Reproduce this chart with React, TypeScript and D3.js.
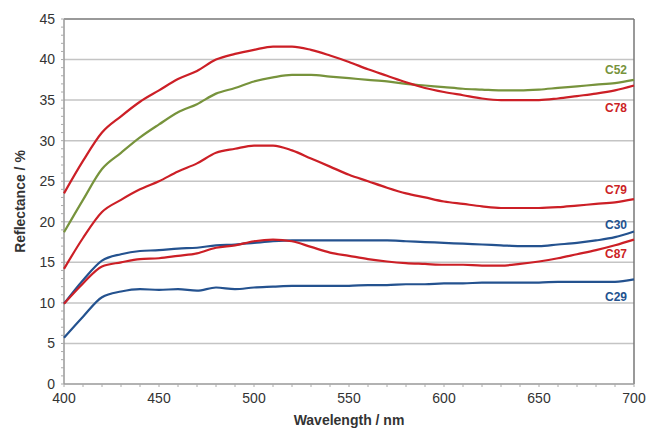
import React, { useEffect, useRef } from "react";
import * as d3 from "d3";

const wavelengths = [400,410,420,430,440,450,460,470,480,490,500,510,520,530,540,550,560,570,580,590,600,610,620,630,640,650,660,670,680,690,700];
const C78 = [23.5,27.5,31,33,34.8,36.2,37.6,38.6,40,40.7,41.2,41.6,41.6,41.2,40.5,39.7,38.8,38,37.2,36.5,36,35.6,35.2,35.0,35.0,35.0,35.2,35.5,35.8,36.2,36.8];
const C52 = [18.7,22.7,26.5,28.5,30.4,32,33.5,34.5,35.8,36.5,37.3,37.8,38.1,38.1,37.9,37.7,37.5,37.3,37.0,36.8,36.6,36.4,36.3,36.2,36.2,36.3,36.5,36.7,36.9,37.1,37.5];
const C79 = [14.2,18,21.2,22.7,24,25,26.2,27.2,28.5,29,29.4,29.4,28.8,27.8,26.8,25.8,25,24.2,23.5,23,22.5,22.2,21.9,21.7,21.7,21.7,21.8,22,22.2,22.4,22.8];
const C30 = [9.9,12.8,15.2,16.0,16.4,16.5,16.7,16.8,17.1,17.2,17.4,17.6,17.7,17.7,17.7,17.7,17.7,17.7,17.6,17.5,17.4,17.3,17.2,17.1,17.0,17.0,17.2,17.4,17.7,18.1,18.8];
const C87 = [9.9,12.4,14.5,15.0,15.4,15.5,15.8,16.1,16.8,17.1,17.6,17.8,17.6,16.9,16.2,15.8,15.4,15.1,14.9,14.8,14.7,14.7,14.6,14.6,14.8,15.1,15.5,16,16.5,17.1,17.8];
const C29 = [5.7,8.3,10.7,11.4,11.7,11.6,11.7,11.5,11.9,11.7,11.9,12.0,12.1,12.1,12.1,12.1,12.2,12.2,12.3,12.3,12.4,12.4,12.5,12.5,12.5,12.5,12.6,12.6,12.6,12.6,12.9];
const seriesNames = ["C52","C78","C79","C30","C87","C29"];
const seriesValues = [C52, C78, C79, C30, C87, C29];
const seriesColors = ["#77933c","#cc1f26","#cc1f26","#24528f","#cc1f26","#24528f"];
const labelValues = [38.7, 34.0, 24.0, 19.6, 16.0, 10.8];
const yTicks = [0,5,10,15,20,25,30,35,40,45];
const xTicks = [400,450,500,550,600,650,700];

export default function App() {
  const ref = useRef<SVGSVGElement>(null);
  useEffect(() => {
    const svg = d3.select(ref.current);
    svg.selectAll("*").remove();
    const left = 64, right = 634, top = 19, bottom = 384;
    const x = d3.scaleLinear().domain([400, 700]).range([left, right]);
    const y = d3.scaleLinear().domain([0, 45]).range([bottom, top]);
    const font = "Liberation Sans, Arial, sans-serif";

    // gridlines
    svg.append("g").selectAll("line").data(yTicks.filter(t => t > 0)).join("line")
      .attr("x1", left).attr("x2", right)
      .attr("y1", d => y(d)).attr("y2", d => y(d))
      .attr("stroke", d => d === 45 ? "#777" : "#c4c4c4").attr("stroke-width", 1.5);
    // right border
    svg.append("line").attr("x1", right).attr("x2", right).attr("y1", top).attr("y2", bottom)
      .attr("stroke", "#777").attr("stroke-width", 1.5);

    // y axis
    const yAxis = svg.append("g");
    yAxis.append("line").attr("x1", left).attr("x2", left).attr("y1", top).attr("y2", bottom).attr("stroke", "#999").attr("stroke-width", 1.5);
    yAxis.selectAll("line.minor").data(d3.range(0, 46)).join("line").attr("class", "minor")
      .attr("x1", left - 3).attr("x2", left).attr("y1", d => y(d)).attr("y2", d => y(d))
      .attr("stroke", "#aaa").attr("stroke-width", 1);
    yAxis.selectAll("text").data(yTicks).join("text")
      .attr("x", left - 9).attr("y", d => y(d)).attr("dy", "0.35em")
      .attr("text-anchor", "end").attr("font-family", font).attr("font-size", 14).attr("fill", "#333")
      .text(d => d);

    // x axis
    const xAxis = svg.append("g");
    xAxis.append("line").attr("x1", left).attr("x2", right).attr("y1", bottom).attr("y2", bottom).attr("stroke", "#999").attr("stroke-width", 1.5);
    xAxis.selectAll("line.minor").data(d3.range(400, 701, 10)).join("line").attr("class", "minor")
      .attr("x1", d => x(d)).attr("x2", d => x(d)).attr("y1", bottom).attr("y2", bottom + 3)
      .attr("stroke", "#aaa").attr("stroke-width", 1);
    xAxis.selectAll("text").data(xTicks).join("text")
      .attr("x", d => x(d)).attr("y", bottom + 19)
      .attr("text-anchor", "middle").attr("font-family", font).attr("font-size", 14).attr("fill", "#333")
      .text(d => d);

    // titles
    svg.append("text").attr("x", (left + right) / 2).attr("y", 425)
      .attr("text-anchor", "middle").attr("font-family", font).attr("font-size", 14).attr("font-weight", "bold").attr("fill", "#333")
      .text("Wavelength / nm");
    svg.append("text").attr("transform", `translate(25,${(top + bottom) / 2}) rotate(-90)`)
      .attr("text-anchor", "middle").attr("font-family", font).attr("font-size", 14).attr("font-weight", "bold").attr("fill", "#333")
      .text("Reflectance / %");

    // lines
    const line = d3.line<number>().x((_, i) => x(wavelengths[i])).y(d => y(d)).curve(d3.curveMonotoneX);
    seriesValues.forEach((vals, i) => {
      svg.append("path").attr("d", line(vals)).attr("fill", "none")
        .attr("stroke", seriesColors[i]).attr("stroke-width", 2.2).attr("stroke-linejoin", "round");
    });

    // labels
    svg.append("g").selectAll("text").data(seriesNames).join("text")
      .attr("x", 627).attr("y", (_, i) => y(labelValues[i])).attr("dy", "0.35em")
      .attr("text-anchor", "end").attr("font-family", font).attr("font-size", 12).attr("font-weight", "bold")
      .attr("fill", (_, i) => seriesColors[i])
      .text(d => d);
  }, []);
  return (
    <svg ref={ref} width={647} height={429} style={{ position: "absolute", left: 0, top: 0, background: "#fff" }} />
  );
}
